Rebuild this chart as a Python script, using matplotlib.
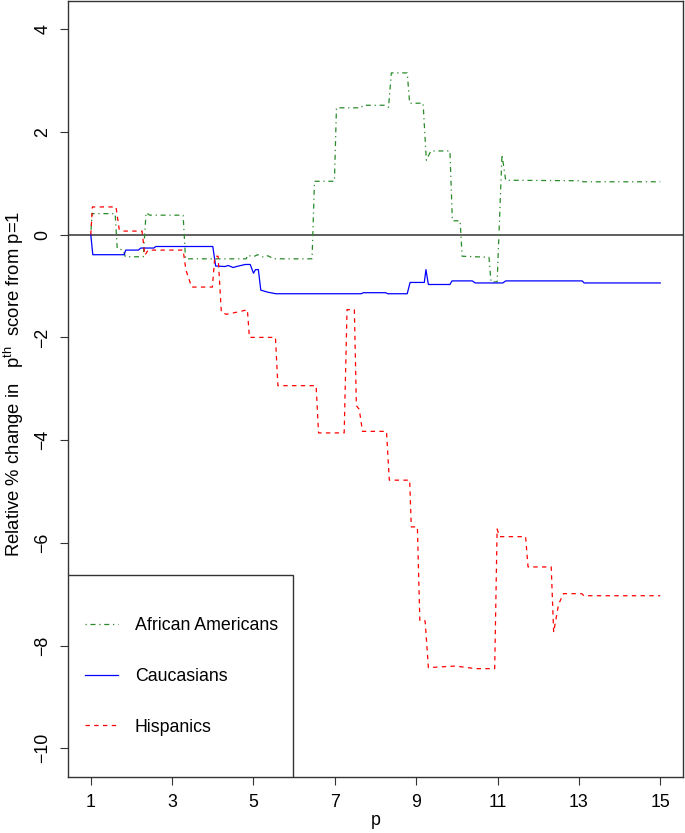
import matplotlib
matplotlib.use("Agg")
import matplotlib.pyplot as plt
from matplotlib.patches import Rectangle

plt.rcParams['font.family'] = ['Liberation Sans', 'DejaVu Sans']
plt.rcParams['mathtext.fontset'] = 'custom'
plt.rcParams['mathtext.rm'] = 'Liberation Sans'
plt.rcParams['mathtext.it'] = 'Liberation Sans'

# ---- data ----
aa_x = [1.0, 1.03, 1.6, 1.65, 1.8, 1.85, 2.29, 2.36, 2.45, 3.27, 3.33, 4.82, 4.86, 5.0, 5.1,
        5.25, 5.35, 5.5, 6.44, 6.5, 6.99, 7.04, 7.64, 7.7, 8.25, 8.32, 8.39, 8.78, 8.84, 9.17,
        9.25, 9.36, 9.83, 9.89, 10.08, 10.13, 10.79, 10.84, 10.99, 11.11, 11.2, 13.07, 13.1, 15.0]
aa_y = [0.0, 0.41, 0.41, -0.27, -0.30, -0.43, -0.43, 0.43, 0.38, 0.38, -0.47, -0.47, -0.40, -0.43, -0.39,
        -0.44, -0.41, -0.47, -0.47, 1.04, 1.04, 2.47, 2.47, 2.52, 2.52, 2.48, 3.15, 3.15, 2.56, 2.56,
        1.45, 1.63, 1.63, 0.27, 0.27, -0.42, -0.44, -0.92, -0.92, 1.56, 1.06, 1.05, 1.03, 1.03]

ca_x = [1.0, 1.05, 1.82, 1.86, 2.17, 2.23, 2.55, 2.6, 4.0, 4.07, 4.3, 4.38, 4.5, 4.58, 4.8, 4.92,
        5.0, 5.05, 5.12, 5.18, 5.35, 5.55, 7.65, 7.7, 8.25, 8.3, 8.78, 8.85, 9.2, 9.24, 9.3, 9.83,
        9.88, 10.38, 10.45, 11.13, 11.2, 13.08, 13.13, 15.0]
ca_y = [0.0, -0.39, -0.39, -0.30, -0.30, -0.26, -0.26, -0.23, -0.23, -0.61, -0.62, -0.60, -0.64, -0.62, -0.58, -0.58,
        -0.75, -0.68, -0.68, -1.08, -1.12, -1.15, -1.15, -1.13, -1.13, -1.15, -1.15, -0.93, -0.93, -0.68, -0.97, -0.97,
        -0.90, -0.90, -0.94, -0.94, -0.90, -0.90, -0.94, -0.94]

hi_x = [1.0, 1.04, 1.62, 1.70, 1.8, 2.26, 2.33, 2.41, 3.27, 3.34, 3.48, 3.99, 4.05, 4.13, 4.21, 4.33,
        4.65, 4.85, 4.9, 5.54, 5.6, 6.54, 6.6, 7.23, 7.3, 7.48, 7.53, 7.6, 7.68, 8.27, 8.34, 8.84,
        8.88, 9.03, 9.09, 9.22, 9.30, 9.97, 10.46, 10.93, 10.99, 11.05, 11.69, 11.75, 12.32, 12.38,
        12.50, 12.62, 13.07, 13.12, 15.0]
hi_y = [0.0, 0.54, 0.54, 0.10, 0.07, 0.07, -0.40, -0.30, -0.30, -0.69, -1.02, -1.02, -0.42, -0.42, -1.51, -1.55,
        -1.50, -1.46, -2.0, -2.0, -2.94, -2.94, -3.86, -3.86, -1.46, -1.46, -3.33, -3.40, -3.83, -3.83, -4.78, -4.78,
        -5.69, -5.69, -7.52, -7.52, -8.43, -8.40, -8.45, -8.45, -5.73, -5.88, -5.88, -6.47, -6.47, -7.74,
        -7.20, -6.99, -6.99, -7.03, -7.03]

labels = ["African Americans", "Caucasians", "Hispanics"]
colors = ["#2a8a2a", "#0000ff", "#ff0000"]
x_ticks = [1, 3, 5, 7, 9, 11, 13, 15]
y_ticks = [-10, -8, -6, -4, -2, 0, 2, 4]

FS = 12.8
fig = plt.figure(figsize=(6.85, 8.33), dpi=100)
ax = fig.add_axes([68 / 685, 1 - 777 / 833, 615 / 685, 776.5 / 833])

ax.axhline(0, color="#333333", lw=1.1, zorder=1)
ax.plot(aa_x, aa_y, color=colors[0], lw=0.9, linestyle=(0, (1, 3, 4, 3)), label=labels[0], zorder=3)
ax.plot(ca_x, ca_y, color=colors[1], lw=0.9, linestyle='-', label=labels[1], zorder=3)
ax.plot(hi_x, hi_y, color=colors[2], lw=0.9, linestyle=(0, (3.5, 3.5)), label=labels[2], zorder=3)

ax.set_xlim(0.44, 15.56)
ax.set_ylim(-10.56, 4.56)
ax.set_xticks(x_ticks)
ax.set_yticks(y_ticks)
ax.set_xticklabels([str(v) for v in x_ticks], fontsize=FS)
ax.set_yticklabels([str(v).replace('-', '\u2212') for v in y_ticks], fontsize=FS, rotation=90, va='center')
ax.tick_params(length=5.5, width=0.8, color='#333333', pad=6.5)
for s in ax.spines.values():
    s.set_linewidth(1.0)
    s.set_color('#333333')

ax.set_xlabel("p", fontsize=FS, labelpad=1)
fig.text(14 / 685, 1 - 384 / 833, r"Relative % change in   p$^{\mathrm{th}}$  score from p=1",
         rotation=90, ha='center', va='center', fontsize=13.3)

# legend box
ax.add_patch(Rectangle((0, 0), (293 - 68) / 615, (777 - 575) / 777, transform=ax.transAxes,
                       fill=True, facecolor='white', edgecolor='#333333', lw=1.0, zorder=5))
leg = ax.legend(loc='upper left', bbox_to_anchor=(85 / 685, 1 - 617 / 833),
                bbox_transform=fig.transFigure, frameon=False, fontsize=FS,
                borderpad=0, borderaxespad=0, handlelength=1.85, handletextpad=0.95,
                labelspacing=1.9)
leg.set_zorder(6)

fig.savefig("out.png", dpi=100)
